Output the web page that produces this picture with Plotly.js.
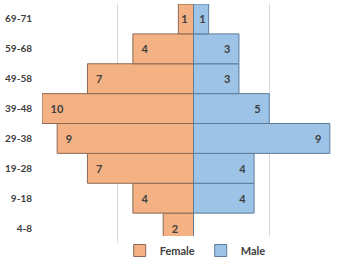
<!DOCTYPE html>
<html><head><meta charset="utf-8">
<script src="https://cdn.plot.ly/plotly-3.0.1.min.js"></script>
<style>html,body{margin:0;padding:0;background:#fff}#c{width:347px;height:265px}</style>
</head><body><div id="c"></div>
<script>
var ageGroups = ["4-8","9-18","19-28","29-38","39-48","49-58","59-68","69-71"];
var female = [2,4,7,9,10,7,4,1];
var male = [0,4,4,9,5,3,3,1];

var fem = {
  type:'bar', orientation:'h', name:'Female',
  y: ageGroups, x: female.map(function(v){return -v;}),
  text: female.map(function(v){return v ? (v > 1 ? '\u2002' : '') + v : '';}),
  textposition:'inside', insidetextanchor:'end', textangle:0,
  textfont:{family:'Lato, sans-serif', size:11, color:'#404040', weight:'bold'},
  marker:{color:'#F4B183', line:{color:'#8C6A55', width:1}},
  hoverinfo:'none', cliponaxis:false
};
var mal = {
  type:'bar', orientation:'h', name:'Male',
  y: ageGroups, x: male,
  text: male.map(function(v){return v ? v + (v > 1 ? '\u2002' : '') : '';}),
  textposition:'inside', insidetextanchor:'end', textangle:0,
  textfont:{family:'Lato, sans-serif', size:11, color:'#404040', weight:'bold'},
  marker:{color:'#9DC3E6', line:{color:'#5F7C99', width:1}},
  hoverinfo:'none', cliponaxis:false
};
var layout = {
  width:347, height:265,
  margin:{l:42, r:2, t:4, b:22, autoexpand:false},
  paper_bgcolor:'#fff', plot_bgcolor:'#fff',
  barmode:'relative', bargap:0,
  showlegend:true,
  legend:{orientation:'h', x:0.345, xanchor:'left', xref:'container', y:0, yanchor:'bottom', yref:'container',
    font:{family:'Lato, sans-serif', size:11, color:'#404040', weight:'bold'},
    itemwidth:30, entrywidth:36, entrywidthmode:'pixels', tracegroupgap:0},
  font:{family:'Lato, sans-serif'},
  xaxis:{range:[-10,10], tickvals:[-10,-5,0,5,10], showticklabels:false,
    showgrid:true, gridcolor:'#D9D9D9', gridwidth:1, zeroline:false, showline:false, fixedrange:true},
  yaxis:{type:'category', categoryorder:'array', categoryarray:ageGroups, automargin:false,
    showgrid:false, zeroline:false, showline:false, ticks:'', ticklabelstandoff:9,
    tickfont:{family:'Lato, sans-serif', size:10, color:'#404040', weight:'bold'}, fixedrange:true}
};
Plotly.newPlot('c',[fem,mal],layout,{displayModeBar:false, staticPlot:true});
</script></body></html>
